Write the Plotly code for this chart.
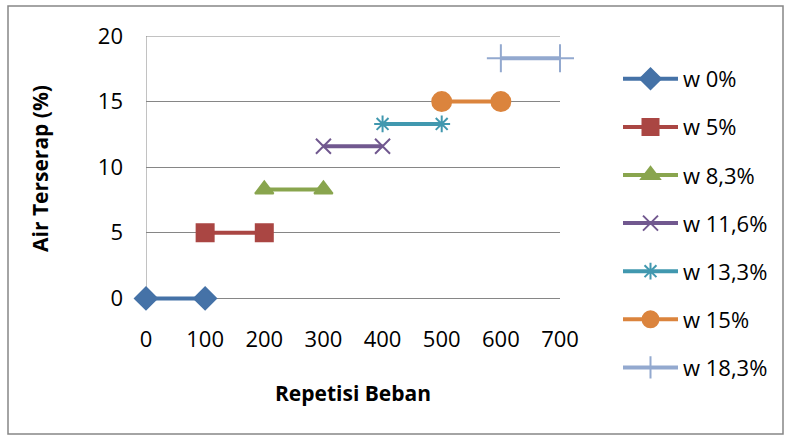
import plotly.graph_objects as go

series_names = ["w 0%", "w 5%", "w 8,3%", "w 11,6%", "w 13,3%", "w 15%", "w 18,3%"]
x_start = [0, 100, 200, 300, 400, 500, 600]
x_end = [100, 200, 300, 400, 500, 600, 700]
y_values = [0, 5, 8.3, 11.6, 13.3, 15, 18.3]
colors = ["#4572A7", "#AA4643", "#89A54E", "#71588F", "#4198AF", "#DB843D", "#93A9CF"]
symbols = ["diamond", "square", "triangle-up", "x-thin-open", "asterisk-open", "circle", "cross-thin-open"]
sizes = [17, 17, 16, 15, 14, 19, 20]
x_ticks = [0, 100, 200, 300, 400, 500, 600, 700]
y_ticks = [0, 5, 10, 15, 20]

fig = go.Figure()
for i, name in enumerate(series_names):
    fig.add_trace(go.Scatter(
        x=[x_start[i], x_end[i]], y=[y_values[i], y_values[i]],
        mode="lines+markers", name=name, legendgroup=name,
        line=dict(color=colors[i], width=4),
        marker=dict(symbol=symbols[i], size=sizes[i], color=colors[i],
                    line=dict(color=colors[i], width=2)),
        cliponaxis=False,
    ))

W, H = 787, 439
L, R, T, B = 146, 227, 36, 138
pw, ph = W - L - R, H - T - B
y_lo = -0.2

def px2x(p):
    return (p - L) / pw

def py2y(p):
    return (H - B - p) / ph

fig.update_layout(
    width=W, height=H,
    margin=dict(l=L, r=R, t=T, b=B),
    paper_bgcolor="white", plot_bgcolor="white",
    font=dict(family="Open Sans", size=22, color="black"),
    xaxis=dict(range=[0, 700], tickvals=x_ticks, showgrid=False, zeroline=False,
               showline=False, ticks="", tickfont=dict(size=22), ticklabelstandoff=23,
               title=dict(text="<b>Repetisi Beban</b>", font=dict(size=21), standoff=34)),
    yaxis=dict(range=[y_lo, 20], tickvals=y_ticks, showgrid=True, gridcolor="#868686",
               gridwidth=1, zeroline=False, showline=False,
               ticks="", ticklabelstandoff=22, tickfont=dict(size=22),
               title=dict(text="<b>Air Terserap (%)</b>", font=dict(size=21), standoff=43)),
    legend=dict(x=px2x(618), y=py2y(58), xanchor="left", yanchor="top",
                tracegroupgap=16.5, itemwidth=55, font=dict(size=22),
                maxheight=420, bgcolor="rgba(0,0,0,0)"),
    showlegend=True,
    shapes=[dict(type="rect", xref="paper", yref="paper",
                 x0=px2x(8), x1=px2x(783), y0=py2y(434), y1=py2y(6),
                 line=dict(color="#868686", width=1.5), layer="below"),
            dict(type="line", xref="paper", yref="y", x0=0, x1=1, y0=20, y1=20,
                 line=dict(color="#868686", width=1), layer="below"),
            dict(type="line", xref="x", yref="y", x0=0, x1=0, y0=0, y1=20,
                 line=dict(color="#868686", width=1), layer="below")],
)

fig.write_html("out.html")
